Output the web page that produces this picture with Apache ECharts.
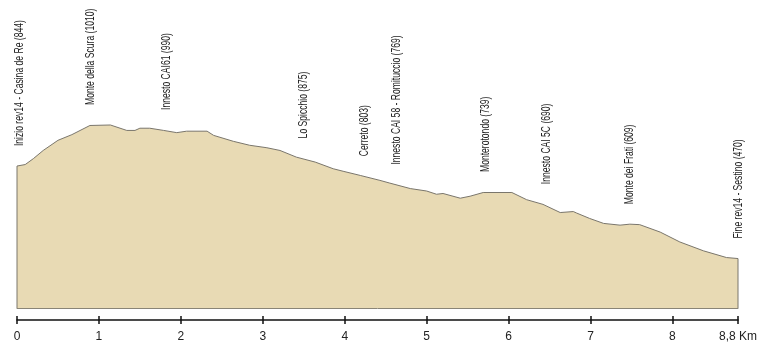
<!DOCTYPE html>
<html lang="it">
<head>
	<meta charset="UTF-8">
	<title>Profilo altimetrico</title>
	<style>
       html, body { margin: 0; padding: 0; background: #fff; }
       #profilo { width: 767px; height: 351px; }
	</style>
	<script type="text/javascript" src="https://cdn.jsdelivr.net/npm/echarts@6.0.0/dist/echarts.min.js"></script>
</head>
<body>
	<div id="profilo"></div>
	<script type="text/javascript">
      // profilo: distanza (km) e quota (m)
      var km    = [0, 0.10, 0.20, 0.32, 0.50, 0.67, 0.89, 1.14, 1.34, 1.44, 1.50, 1.62, 1.79, 1.95, 2.07, 2.32,
                   2.40, 2.64, 2.84, 3.05, 3.21, 3.41, 3.64, 3.86, 3.98, 4.19, 4.43, 4.55, 4.80, 5.00, 5.12,
                   5.20, 5.41, 5.53, 5.69, 6.04, 6.22, 6.42, 6.63, 6.79, 6.83, 6.99, 7.16, 7.36, 7.48, 7.60,
                   7.85, 8.09, 8.38, 8.66, 8.80];
      var quota = [844, 850, 874, 907, 948, 971, 1008, 1010, 988, 988, 997, 997, 988, 979, 985, 985,
                   968, 944, 928, 918, 907, 880, 860, 833, 823, 806, 786, 775, 753, 743, 730,
                   733, 714, 722, 737, 737, 708, 689, 656, 660, 654, 632, 612, 605, 609, 607,
                   577, 537, 501, 474, 470];

      // punti notevoli
      var puntiNomi  = ['Inizio rev14 - Casina de Re', 'Monte della Scura', 'Innesto CAI61', 'Lo Spicchio', 'Cerreto',
                        'Innesto CAI 58 - Romituccio', 'Monterotondo', 'Innesto CAI 5C', 'Monte dei Frati', 'Fine rev14 - Sestino'];
      var puntiKm    = [0.03, 0.90, 1.82, 3.50, 4.24, 4.63, 5.72, 6.46, 7.47, 8.80];
      var puntiQuota = [844, 1010, 990, 875, 803, 769, 739, 690, 609, 470];

      var tickKm = [0, 1, 2, 3, 4, 5, 6, 7, 8, 8.8];
      var kmMax = 8.8;
      var quotaBase = 270;

      var fontNarrow = '"Liberation Sans", sans-serif';
      var strettoX = 0.66;   // testo condensato

      var profiloData = [[0, quotaBase]];
      for (var i = 0; i < km.length; i++) profiloData.push([km[i], quota[i]]);
      profiloData.push([kmMax, quotaBase]);

      var puntiData = [];
      for (var j = 0; j < puntiNomi.length; j++) {
          puntiData.push([puntiKm[j], puntiQuota[j], j]);
      }

      var asseKm = function (extra) {
          var a = {
              type: 'value', min: 0, max: kmMax, position: 'bottom',
              splitLine: { show: false },
              axisLine: { show: false, onZero: false },
              axisTick: { show: false },
              axisLabel: { show: false }
          };
          for (var k in extra) a[k] = extra[k];
          return a;
      };

      var chart = echarts.init(document.getElementById('profilo'));
      var option = {
          animation: false,
          grid: { left: 17, right: 29, top: 78, bottom: 43 },
          xAxis: [
              asseKm({   // asse km con etichette
                  offset: 12,
                  axisLine: { show: true, onZero: false, lineStyle: { color: '#111', width: 1.5 } },
                  axisTick: { show: true, length: 4, customValues: tickKm, lineStyle: { color: '#111', width: 1.5 } },
                  axisLabel: {
                      show: true, customValues: tickKm, margin: 11,
                      color: '#222', fontSize: 12, fontFamily: fontNarrow,
                      formatter: function (v) { return v === kmMax ? '8,8 Km' : String(v); }
                  }
              }),
              asseKm({   // tacche verso l'alto
                  offset: 12,
                  axisTick: { show: true, inside: true, length: 4, customValues: tickKm, lineStyle: { color: '#111', width: 1.5 } }
              }),
              asseKm({   // bordo inferiore del profilo
                  offset: 0,
                  axisLine: { show: true, onZero: false, lineStyle: { color: '#8a8577', width: 1 } }
              })
          ],
          yAxis: { type: 'value', min: quotaBase, max: 1200, show: false },
          series: [
              {
                  type: 'line',
                  data: profiloData,
                  symbol: 'none',
                  lineStyle: { color: '#7a766c', width: 1 },
                  areaStyle: { color: '#e8dab4', opacity: 1 },
                  z: 2
              },
              {
                  type: 'custom',
                  data: puntiData,
                  renderItem: function (params, api) {
                      var p = api.coord([api.value(0), api.value(1)]);
                      var idx = api.value(2);
                      return {
                          type: 'text',
                          x: p[0],
                          y: p[1] - 20,
                          rotation: Math.PI / 2,
                          scaleX: strettoX,
                          style: {
                              text: puntiNomi[idx] + ' (' + puntiQuota[idx] + ')',
                              fill: '#222',
                              fontSize: 13,
                              fontFamily: fontNarrow,
                              align: 'left',
                              verticalAlign: 'middle'
                          }
                      };
                  },
                  z: 3
              }
          ]
      };
      chart.setOption(option);
	</script>
</body>
</html>
